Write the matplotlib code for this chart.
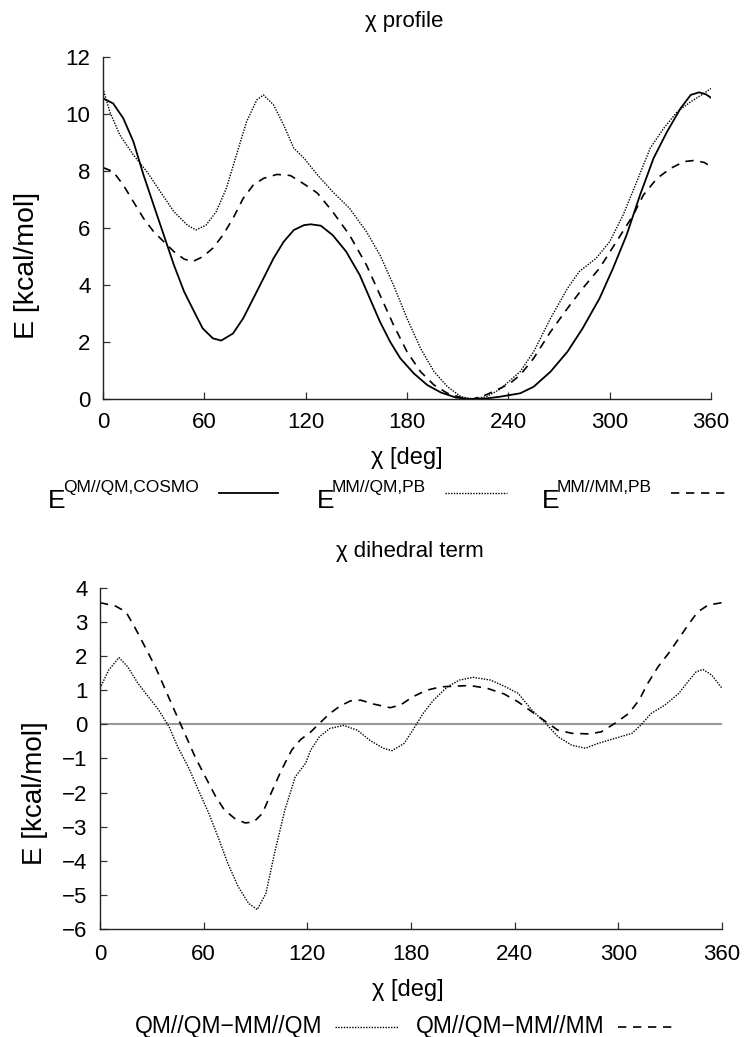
import matplotlib
matplotlib.use("Agg")
import matplotlib.pyplot as plt
from matplotlib.lines import Line2D

plt.rcParams['font.family'] = ['Liberation Sans', 'DejaVu Sans']

# ---- chi profile (kcal/mol) ----
chi_qm = [0, 6, 12, 18, 24, 30, 36, 42, 48, 54, 59, 65, 70, 77, 83, 89, 95, 101, 107, 113, 119,
          123, 129, 136, 144, 152, 158, 164, 170, 176, 184, 192, 200, 209, 217, 227, 235, 247,
          255, 265, 275, 284, 294, 302, 310, 318, 326, 334, 342, 348, 353, 357, 360]
e_qm = [10.55, 10.37, 9.85, 9.03, 7.86, 6.8, 5.75, 4.7, 3.77, 3.06, 2.48, 2.13, 2.05, 2.3, 2.83,
        3.53, 4.23, 4.94, 5.52, 5.93, 6.1, 6.13, 6.08, 5.75, 5.17, 4.35, 3.53, 2.71, 2.01, 1.43,
        0.9, 0.49, 0.23, 0.05, 0.0, 0.02, 0.08, 0.2, 0.43, 0.96, 1.66, 2.48, 3.53, 4.59, 5.75,
        7.16, 8.45, 9.38, 10.2, 10.67, 10.76, 10.69, 10.57]

chi_mmqm = [0, 4, 10, 18, 26, 34, 42, 50, 55, 61, 67, 73, 79, 85, 91, 95, 101, 107, 113, 119, 127,
            136, 146, 156, 164, 172, 180, 188, 196, 204, 212, 219, 227, 235, 247, 255, 265, 275,
            282, 292, 300, 308, 316, 324, 332, 340, 348, 356, 360]
e_mmqm = [10.9, 10.08, 9.26, 8.56, 7.98, 7.27, 6.57, 6.1, 5.93, 6.1, 6.57, 7.39, 8.56, 9.73, 10.49,
          10.67, 10.32, 9.61, 8.8, 8.45, 7.86, 7.27, 6.69, 5.87, 5.05, 4.0, 2.83, 1.78, 0.96, 0.43,
          0.08, 0.0, 0.08, 0.34, 0.96, 1.66, 2.83, 3.88, 4.47, 4.94, 5.52, 6.46, 7.62, 8.8, 9.5,
          10.08, 10.43, 10.73, 10.9]

chi_mmmm = [0, 6, 12, 18, 24, 30, 36, 42, 48, 53, 59, 65, 71, 77, 83, 89, 95, 103, 111, 117, 123,
            127, 136, 146, 156, 164, 172, 180, 188, 196, 204, 212, 219, 227, 235, 241, 247, 255,
            265, 275, 284, 294, 304, 314, 320, 328, 336, 344, 350, 356, 360]
e_mmmm = [8.12, 7.98, 7.51, 6.92, 6.34, 5.87, 5.52, 5.17, 4.91, 4.82, 4.99, 5.29, 5.75, 6.34,
          7.04, 7.51, 7.74, 7.88, 7.84, 7.62, 7.39, 7.22, 6.57, 5.75, 4.7, 3.65, 2.6, 1.66, 0.96,
          0.49, 0.2, 0.05, 0.0, 0.15, 0.37, 0.55, 0.84, 1.43, 2.36, 3.18, 3.88, 4.59, 5.52, 6.46,
          7.16, 7.74, 8.09, 8.33, 8.37, 8.3, 8.15]

# ---- chi dihedral term (kcal/mol) ----
chi_dq = [0, 5, 11, 16, 22, 28, 34, 40, 45, 51, 57, 63, 69, 74, 80, 86, 91, 96, 101, 107, 113,
          119, 122, 127, 133, 141, 149, 156, 164, 169, 176, 181, 187, 193, 201, 208, 216, 226,
          234, 242, 250, 258, 265, 273, 281, 288, 298, 308, 313, 319, 327, 335, 341, 345, 349,
          354, 360]
e_dq = [1.06, 1.59, 1.96, 1.69, 1.2, 0.81, 0.42, -0.07, -0.66, -1.24, -1.93, -2.61, -3.39, -4.08,
        -4.76, -5.25, -5.43, -4.96, -3.78, -2.51, -1.54, -1.14, -0.75, -0.36, -0.12, -0.03, -0.17,
        -0.46, -0.7, -0.77, -0.56, -0.17, 0.32, 0.71, 1.1, 1.3, 1.38, 1.3, 1.12, 0.91, 0.42, 0.03,
        -0.36, -0.61, -0.7, -0.56, -0.41, -0.26, -0.02, 0.32, 0.57, 0.91, 1.3, 1.54, 1.61, 1.45,
        1.06]

chi_dm = [0, 9, 15, 20, 26, 32, 38, 43, 49, 55, 61, 67, 72, 78, 84, 89, 94, 99, 105, 111, 116,
          122, 127, 133, 139, 145, 151, 158, 168, 174, 181, 189, 197, 205, 214, 224, 234, 242, 250,
          258, 265, 273, 283, 290, 298, 306, 312, 317, 323, 329, 335, 341, 346, 352, 360]
e_dm = [3.57, 3.47, 3.3, 2.86, 2.28, 1.69, 1.0, 0.42, -0.26, -0.95, -1.54, -2.12, -2.51, -2.76,
        -2.89, -2.86, -2.61, -2.02, -1.34, -0.75, -0.45, -0.22, 0.03, 0.32, 0.54, 0.69, 0.71, 0.6,
        0.49, 0.57, 0.81, 1.0, 1.1, 1.12, 1.14, 1.06, 0.89, 0.66, 0.37, 0.08, -0.17, -0.26, -0.28,
        -0.22, 0.03, 0.32, 0.71, 1.2, 1.69, 2.08, 2.52, 2.96, 3.3, 3.5, 3.57]

xticks = [0, 60, 120, 180, 240, 300, 360]
fs = 16

fig = plt.figure(figsize=(7.46, 10.37), dpi=100)


def fx(px):
    return px / 746


def fy(py):
    return 1 - py / 1037


def style(ax, yticks, xpad, ypad):
    for s in ('top', 'right'):
        ax.spines[s].set_visible(False)
    for s in ('left', 'bottom'):
        ax.spines[s].set_color('#222222')
        ax.spines[s].set_linewidth(1.0)
    ax.set_xlim(0, 360)
    ax.set_xticks(xticks)
    ax.set_yticks(yticks)
    ax.tick_params(direction='in', length=5, width=0.9, labelsize=fs, color='#333333')
    ax.tick_params(axis='x', pad=xpad)
    ax.tick_params(axis='y', pad=ypad)


# top panel
ax1 = fig.add_axes([fx(103), fy(399), 608 / 746, 342 / 1037])
ax1.plot(chi_qm, e_qm, color='black', lw=1.3, ls='-')
ax1.plot(chi_mmqm, e_mmqm, color='black', lw=1.0, ls=(0, (1, 1)))
ax1.plot(chi_mmmm, e_mmmm, color='black', lw=1.2, ls=(0, (5, 4)))
ax1.set_ylim(0, 12)
style(ax1, [0, 2, 4, 6, 8, 10, 12], 9, 9)
fig.text(fx(407), fy(458), 'χ [deg]', ha='center', va='center', fontsize=17)
fig.text(fx(27), fy(265), 'E [kcal/mol]', ha='center', va='center', rotation=90, fontsize=20.5)
fig.text(fx(404), fy(22), 'χ profile', ha='center', va='center', fontsize=16)

# bottom panel
ax2 = fig.add_axes([fx(100), fy(929), 622 / 746, 341 / 1037])
ax2.axhline(0, color='#999999', lw=1.5, zorder=1)
ax2.plot(chi_dq, e_dq, color='black', lw=1.0, ls=(0, (1, 1)))
ax2.plot(chi_dm, e_dm, color='black', lw=1.2, ls=(0, (5, 4)))
ax2.set_ylim(-6, 4)
style(ax2, list(range(-6, 5)), 11, 9)
ax2.set_yticklabels(['\u2212%d' % -v if v < 0 else str(v) for v in range(-6, 5)])
fig.text(fx(408), fy(990), 'χ [deg]', ha='center', va='center', fontsize=17)
fig.text(fx(35), fy(793), 'E [kcal/mol]', ha='center', va='center', rotation=90, fontsize=20)
fig.text(fx(410), fy(551), 'χ dihedral term', ha='center', va='center', fontsize=16)

# top legend: base letter with superscript tag, then a line sample
ly = 498
entries_top = [
    (48, 'QM//QM,COSMO', (219, 278), '-', 1.3),
    (317, 'MM//QM,PB', (445, 507), (0, (1, 1)), 1.0),
    (542, 'MM//MM,PB', (671, 728), (0, (5, 4)), 1.2),
]
for x0, sup, (s0, s1), ls, lw in entries_top:
    fig.text(fx(x0), fy(ly + 10), 'E', ha='left', va='baseline', fontsize=19)
    fig.text(fx(x0 + 15), fy(ly - 6), sup, ha='left', va='baseline', fontsize=12.5)
    fig.add_artist(Line2D([fx(s0), fx(s1)], [fy(ly - 5), fy(ly - 5)], color='black',
                          ls=ls, lw=lw, transform=fig.transFigure))

# bottom legend
by = 1027
entries_bot = [
    (135, 'QM//QM\u2212MM//QM', (335, 398), (0, (1, 1)), 1.0),
    (416, 'QM//QM\u2212MM//MM', (618, 675), (0, (5, 4)), 1.2),
]
for x0, label, (s0, s1), ls, lw in entries_bot:
    fig.text(fx(x0), fy(by), label, ha='left', va='center', fontsize=16.5)
    fig.add_artist(Line2D([fx(s0), fx(s1)], [fy(by), fy(by)], color='black',
                          ls=ls, lw=lw, transform=fig.transFigure))

fig.savefig('out.png', dpi=100, facecolor='white')
